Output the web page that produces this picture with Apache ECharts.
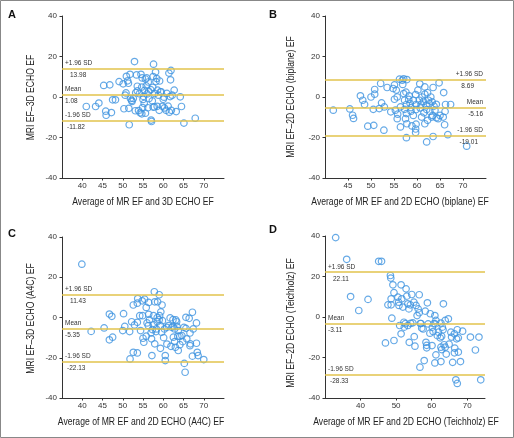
<!DOCTYPE html>
<html><head><meta charset="utf-8">
<script src="https://cdn.jsdelivr.net/npm/echarts@6/dist/echarts.min.js"></script>
<style>html,body{margin:0;padding:0;background:#fff}#c{width:514px;height:438px}</style>
</head><body><div id="c"></div>
<script>
// ---- data ----
const pointsA = [[41,-4.7],[43.3,-4.7],[44.1,-3],[45.3,5.7],[45.8,-7],[45.9,-9],[46.8,6],[47.2,-7.7],[47.5,-1.4],[48.2,-1.4],[49.1,7.6],[50.1,6.5],[50.3,-5.8],[50.6,0.9],[50.8,2],[50.9,10.2],[51.2,8],[51.4,6.8],[51.6,-13.7],[51.5,-5.6],[51.8,11.2],[51.9,-0.8],[52.2,-1.7],[52.3,-2.2],[52.6,-0.7],[52.9,17.5],[53.1,-6.8],[53.4,10.9],[53.6,5.3],[53.6,3],[53.9,-6.7],[54.1,1.6],[54.3,-7.8],[54.5,11.2],[54.7,-8.3],[54.7,4.9],[54.8,9.4],[55,-1.2],[55.1,0.3],[55.3,-3.2],[55.4,3.3],[55.6,8.9],[55.8,5.5],[55.9,9.4],[56,1.5],[56.2,-5.3],[56.3,7.4],[56.4,2.9],[56.5,-0.8],[56.9,3.6],[57,-11.4],[57.1,-12.1],[57.3,-1.9],[57.4,4.8],[57.5,10.1],[57.6,16.2],[57.8,-4.9],[57.9,1.7],[58.1,12.3],[58.2,7.6],[58.4,9.1],[58.5,-4.6],[58.6,3.4],[58.8,0.9],[59,-6.6],[59.1,7.9],[59.3,2.5],[59.5,2.6],[59.8,-4.6],[60,-1.1],[60.2,-0.1],[60.3,-5.4],[60.7,-6.6],[60.9,1.8],[61.2,-4.5],[61.4,11.8],[61.5,-7.5],[61.7,0.2],[61.8,8.5],[61.9,13.1],[62,-6.6],[62.2,0.9],[62.7,3.4],[63.2,-7.2],[64.2,0.1],[64.5,-4.7],[65.1,-12.9],[67.9,-10.5],[57.5,-5.0],[55.6,-8.0],[53.2,2.1],[54.9,-5.2]];
const pointsB = [[41.8,-6.5],[45.4,-5.9],[46,-9],[46.2,-10.6],[47.7,0.6],[48.2,-1.6],[48.6,-3.7],[49.3,-14.4],[50,0],[50.6,-14],[50.5,-6.1],[50.8,1.4],[50.8,3.7],[51.8,-5.7],[52.1,6.7],[52.3,-2.9],[52.8,-16.4],[52.9,-4.9],[53.5,4.7],[54.3,-7.3],[54.8,4.2],[55.1,6.0],[55.1,-1.1],[55.3,-6.5],[55.5,3.4],[55.7,0],[55.7,-10.7],[55.8,-8.5],[56.2,8.8],[56.4,-4.9],[56.4,-14.8],[56.8,8.3],[57.1,9],[57.8,8.6],[56.9,6.2],[57.1,1.7],[57.3,-1.6],[57.3,-6.1],[57.6,2.4],[57.7,-3.7],[57.7,-8.2],[57.5,-10.7],[57.7,-20.1],[57.8,-13.2],[58.2,-1.2],[58.3,0.6],[58.5,-3.2],[58.7,-5.2],[58.7,-7.0],[58.9,-14.3],[59.2,-9.1],[59.2,-1.6],[59.7,1.2],[59.8,-3.7],[59.8,-6.2],[59.7,-15.8],[59.7,-17.5],[59.8,-13.4],[60.2,3.4],[60.6,6.5],[60.5,-1.6],[60.7,-5.4],[60.9,-3.6],[61,-9.9],[61.1,0],[61.4,-2.2],[61.5,-7.8],[61.7,5.0],[61.7,1.4],[61.7,-13.2],[62,-4.1],[62.1,-6.2],[62.1,-22.2],[62.3,2.1],[62.3,-11.5],[62.5,-1.6],[62.7,-3.4],[62.8,-7.1],[63,0],[63.2,-9.9],[63.4,-9.1],[63.3,-2.4],[63.5,4.7],[63.5,-19.5],[63.7,-4.5],[63.9,-6.5],[64.2,-3.6],[64.2,-10.2],[64.6,-10.7],[64.8,7],[65,-9.1],[65.7,-9.9],[65.8,2.2],[66.1,-7.1],[66,-13.7],[66.2,-3.7],[66.7,-18.6],[67.3,-3.7],[70.8,-24.3]];
const pointsC = [[39.9,26.5],[42.2,-6.9],[45.4,-5.2],[46.7,1.7],[47.3,0.6],[46.7,-11.1],[47.5,-9.8],[50.2,1.9],[50,-6.5],[50.5,-4.4],[51.7,-7],[51.8,-20.6],[52.2,-2.1],[52.6,6.2],[52.6,-17.3],[52.9,-3.7],[53.6,7.1],[53.7,9.4],[53.6,-2.4],[53.6,-17.6],[54.2,0.9],[54.4,-6.5],[54.8,8.3],[54.9,0.9],[55,-10.3],[55.2,-12.3],[55.4,9.1],[55.8,5],[55.8,-9.3],[56,-2.7],[56.3,-4.0],[56.4,1.6],[56.6,-1.1],[56.4,7.5],[57.1,-10.6],[57.2,-18.9],[57.6,0.9],[57.6,-3.7],[57.8,12.8],[57.9,7.8],[57.9,-13.1],[58.2,-7.0],[58.3,-5.7],[58.5,-2.1],[58.5,-0.1],[58.6,7.8],[59,11.3],[59.1,0.9],[59,-1.1],[59.3,-4],[59.6,-7.3],[59.3,-15.3],[59.4,2.8],[59.7,6.2],[59.8,-1.6],[60.3,-5.7],[60.5,-18.9],[60.5,-21.4],[60.9,-4.9],[61.3,-4],[61.7,-0.2],[61.9,-14.3],[62.1,-4.9],[62.4,-1.1],[62.5,-9.8],[62.8,-5.7],[62.8,-12],[63,-14.8],[63.1,-1.2],[63.3,-2.1],[63.6,-9.3],[63.7,-6.5],[63.7,-16.4],[64.1,-9.3],[64.6,-9],[64.8,-12],[65.1,-4.9],[65.2,-22.8],[65.4,-27.2],[65.6,0.1],[65.6,-5.4],[65.8,-10.6],[66.4,-0.4],[66.6,-7.7],[66.7,-13.1],[66.6,-14],[67.2,2.6],[67.4,-5.7],[67.2,-19.2],[68.2,-2.7],[68.2,-12.8],[68.4,-17.3],[68.6,-18.9],[70,-20.9],[57,-7.6],[57.3,-6.0],[60.1,-10.0],[60.9,-13.2],[62.4,-4.4],[64.1,-13.5],[63.4,-4.5]];
const pointsD = [[33,39.2],[36.1,28.5],[37.2,10.1],[39.5,3.2],[42.1,8.7],[45.1,27.5],[45.9,27.5],[47,-12.8],[47.7,6.0],[48.4,20.5],[48.5,19.2],[48.6,6.0],[48.6,9.0],[48.8,-0.6],[49.1,15.9],[49.4,-11.6],[49.4,12],[50.5,9.8],[50.7,7.3],[50.8,5.7],[51,-4.2],[51.4,15.9],[51.4,-8.3],[51.6,9],[51.9,4.9],[52.2,-2.6],[52.3,-5],[52.8,13.9],[53,10.3],[53.3,6.5],[53.6,4.0],[53.3,-4.2],[53.7,-12.5],[54,6.0],[54.4,11.1],[54.7,-2.9],[55,7.3],[55.1,-9.7],[55.3,-14.4],[55.6,5.7],[55.9,0.7],[56.2,4.0],[56.5,11],[56.5,2.1],[56.7,-24.8],[57,-3.2],[57.2,-5.5],[57.6,-5.9],[57.9,-21.5],[58.2,2.9],[58.4,-12.5],[58.6,-14],[58.6,-15.2],[58.8,7.0],[59.5,-8],[59.6,1.6],[60.1,-14.1],[60.2,-5],[60.4,-7.2],[60.9,0.7],[61,-3.4],[61.2,-1.7],[60.9,-22.7],[61.2,-18.7],[61.6,-9.2],[61.9,-7.5],[62.4,-10.3],[62.8,-9.5],[62.6,-22],[62.6,-14.9],[62.8,-16.1],[63,-5],[63.2,-6.3],[63.3,6.5],[63.5,-13.7],[63.8,-14.9],[63.8,-1.7],[64.1,-18.3],[64.7,-0.9],[64.9,-13.4],[65.4,-7.5],[65.6,-9.9],[65.9,-22.4],[66.4,-8.3],[66.5,-15.4],[66.4,-17.7],[66.8,-31],[67.2,-32.8],[67,-10.8],[67.2,-6.3],[67.5,-10.3],[67.5,-17.3],[68.1,-22],[68.7,-7],[70.9,-9.9],[72.3,-16.3],[73.3,-9.9],[73.8,-31],[52.6,-3.3],[54.1,-3.1],[56.8,-3.2],[59.0,-3.4],[60.6,-3.3],[62.6,-3.0]];
const panelLetters = ['A','B','C','D'];
const yTitles = ['MRI EF\u20133D ECHO EF','MRI EF\u20132D ECHO (biplane) EF','MRI EF\u20133D ECHO (A4C) EF','MRI EF\u20132D ECHO (Teichholz) EF'];
const xTitles = ['Average of MR EF and 3D ECHO EF','Average of MR EF and 2D ECHO (biplane) EF','Average of MR EF and 2D ECHO (A4C) EF','Average of MR EF and 2D ECHO (Teichholz) EF'];
const upperLimits = [13.98, 8.69, 11.43, 22.11];
const means = [1.08, -5.16, -5.35, -3.11];
const lowerLimits = [-11.82, -19.01, -22.13, -28.33];
const xMins = [35, 40, 35, 30];
const xMax = 75;
const xTickSteps = [5, 5, 5, 10];
const xTickLabels = [[40,45,50,55,60,65,70],[45,50,55,60,65,70],[40,45,50,55,60,65,70],[40,50,60,70]];
const limitNames = ['+1.96 SD','Mean','-1.96 SD'];

// ---- layout ----
const FONT = "'Liberation Sans',Arial,sans-serif";
const grids = [
  {left:62, top:16, width:162, height:162},
  {left:325, top:16, width:161, height:162},
  {left:62, top:237, width:162, height:161},
  {left:325, top:236, width:160, height:162}
];
const letterPos = [[8,9],[269,9],[8,228],[269,224]];
const xTitlePos = [[143,202],[400,202],[141,422],[406,422]];
const yTitlePos = [[31.5,97.5],[291,97],[31.5,318.5],[291,323]];
const BLUE = '#3f93e0', GOLD = '#e2c34c', AXIS = '#333';
const allPts = [pointsA, pointsB, pointsC, pointsD];

const option = {animation:false, backgroundColor:'#fff', textStyle:{fontFamily:FONT},
  grid:[], xAxis:[], yAxis:[], series:[], graphic:[]};

grids.forEach((g,i)=>{
  option.grid.push(Object.assign({containLabel:false}, g));
  option.xAxis.push({type:'value', gridIndex:i, min:xMins[i], max:xMax, interval:xTickSteps[i],
    axisLine:{show:true, onZero:false, lineStyle:{color:AXIS, width:1}},
    axisTick:{show:true, length:2.5, lineStyle:{color:AXIS}, customValues:xTickLabels[i]},
    axisLabel:{fontSize:8, color:'#333', margin:4, customValues:xTickLabels[i], fontFamily:FONT},
    splitLine:{show:false}});
  option.yAxis.push({type:'value', gridIndex:i, min:-40, max:40, interval:20,
    axisLine:{show:true, onZero:false, lineStyle:{color:AXIS, width:1}},
    axisTick:{show:true, length:2.5, lineStyle:{color:AXIS}},
    axisLabel:{fontSize:8, color:'#333', margin:5, fontFamily:FONT},
    splitLine:{show:false}});
  const right = (i===1);
  const posTop = right ? 'insideEndTop' : 'insideStartTop';
  const posBot = right ? 'insideEndBottom' : 'insideStartBottom';
  const lab = (text, pos, dist) => ({show:true, position:pos, formatter:text, distance:dist,
      fontSize:6.5, color:'#333', fontFamily:FONT});
  const vals = [upperLimits[i], means[i], lowerLimits[i]];
  const valIndent = right ? [[12,3],[3,3],[8,3]] : [[8,3],[3,3],[5,3]];
  const mlData = [];
  vals.forEach((v,k)=>{
    mlData.push({yAxis:v, label:lab(limitNames[k], posTop, [3,2])});
    mlData.push({yAxis:v, lineStyle:{width:0}, label:lab(v.toFixed(2), posBot, valIndent[k])});
  });
  option.series.push({type:'scatter', xAxisIndex:i, yAxisIndex:i, data:allPts[i],
    symbol:'circle', symbolSize:6.5,
    itemStyle:{color:'rgba(255,255,255,0)', borderColor:BLUE, borderWidth:1.2},
    markLine:{silent:true, symbol:'none', animation:false,
      lineStyle:{color:GOLD, width:1.5, type:'solid'}, data:mlData}});
  option.graphic.push({type:'text', left:letterPos[i][0], top:letterPos[i][1],
    style:{text:panelLetters[i], font:"bold 11px 'Liberation Sans',Arial,sans-serif", fill:'#111'}});
  option.graphic.push({type:'text', x:xTitlePos[i][0], y:xTitlePos[i][1], scaleX:0.82,
    style:{text:xTitles[i], font:"10.5px 'Liberation Sans',Arial,sans-serif", fill:'#222',
      align:'center', verticalAlign:'middle', textAlign:'center', textVerticalAlign:'middle'}});
  option.graphic.push({type:'text', x:yTitlePos[i][0], y:yTitlePos[i][1], scaleX:0.82, rotation:Math.PI/2,
    style:{text:yTitles[i], font:"10.5px 'Liberation Sans',Arial,sans-serif", fill:'#222',
      align:'center', verticalAlign:'middle', textAlign:'center', textVerticalAlign:'middle'}});
});
option.graphic.push({type:'rect', shape:{x:0.5, y:0.5, width:513, height:437},
  style:{fill:'none', stroke:'#888', lineWidth:1}, silent:true});

const chart = echarts.init(document.getElementById('c'), null, {renderer:'canvas'});
chart.setOption(option);
</script></body></html>
